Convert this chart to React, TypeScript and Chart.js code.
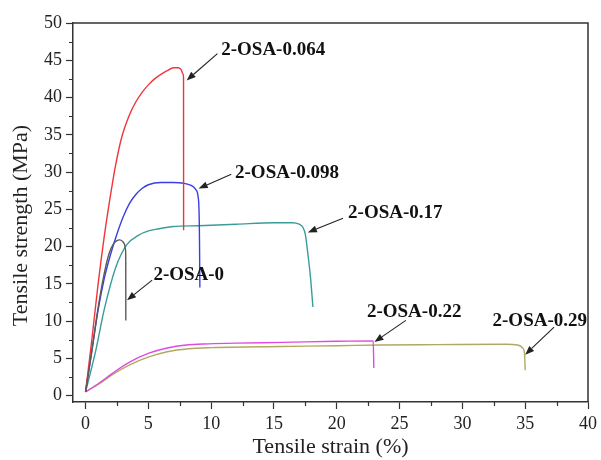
import { useEffect, useRef } from 'react';
import { Chart, registerables } from 'chart.js';

Chart.register(...registerables);

// ---- axis ticks ----
const xTickValues = [0, 5, 10, 15, 20, 25, 30, 35, 40];
const yTickValues = [0, 5, 10, 15, 20, 25, 30, 35, 40, 45, 50];
const xMinorTicks = [2.5, 7.5, 12.5, 17.5, 22.5, 27.5, 32.5, 37.5];
const yMinorTicks = [2.5, 7.5, 12.5, 17.5, 22.5, 27.5, 32.5, 37.5, 42.5, 47.5];

// ---- series (strain %, strength MPa) ----
const strain0 = [0, 0.5, 1.0, 1.5, 1.9, 2.2, 2.5, 2.7, 2.95, 3.1, 3.18, 3.2, 3.205];
const stress0 = [0.5, 6, 11.8, 16.5, 19.2, 20.3, 20.8, 20.9, 20.7, 20.3, 19.6, 18.5, 10.1];

const strain064 = [0, 0.5, 1.0, 1.5, 1.9, 2.4, 2.9, 3.5, 4.0, 4.5, 5.0, 5.5, 6.0, 6.5, 7.0, 7.4, 7.62, 7.75, 7.8, 7.805];
const stress064 = [0.5, 7.5, 15, 21.5, 26, 31, 34.8, 37.7, 39.4, 40.7, 41.7, 42.5, 43.1, 43.6, 44, 44, 43.7, 43.2, 42.6, 22.2];

const strain098 = [0, 0.5, 1.0, 1.5, 2.0, 2.5, 3.0, 3.5, 4.0, 4.5, 5.0, 6.0, 7.0, 7.8, 8.4, 8.75, 8.95, 9.03, 9.07, 9.1];
const stress098 = [0.5, 6, 11.5, 15.8, 19, 21.7, 24, 25.8, 27, 27.8, 28.3, 28.6, 28.6, 28.5, 28.2, 27.7, 26.8, 25, 21, 14.5];

const strain017 = [0, 0.82, 1.48, 2.4, 3.3, 4.2, 5.0, 5.84, 7.0, 9.0, 12.0, 15.0, 16.5, 17.0, 17.3, 17.5, 17.7, 17.9, 18.1];
const stress017 = [0.5, 6.1, 11.5, 17.2, 20.3, 21.5, 22.1, 22.4, 22.7, 22.8, 23.0, 23.2, 23.2, 23.0, 22.6, 21.6, 19.0, 16.0, 11.9];

const strain022 = [0, 1.08, 2.14, 3.5, 5.04, 6.5, 8.0, 9.8, 12.0, 15.6, 20.0, 22.9, 22.95];
const stress022 = [0.5, 1.7, 3.0, 4.5, 5.7, 6.4, 6.8, 6.95, 7.05, 7.15, 7.3, 7.35, 3.7];

const strain029 = [0, 1.1, 2.2, 3.6, 5.04, 6.5, 8.2, 10.0, 15.6, 20.0, 23.5, 28.0, 33.5, 34.4, 34.8, 34.95, 35.0];
const stress029 = [0.5, 1.6, 2.9, 4.2, 5.2, 5.9, 6.3, 6.45, 6.6, 6.7, 6.8, 6.85, 6.9, 6.8, 6.4, 5.6, 3.4];

const seriesNames = ['2-OSA-0', '2-OSA-0.064', '2-OSA-0.098', '2-OSA-0.17', '2-OSA-0.22', '2-OSA-0.29'];
const seriesStrain = [strain0, strain064, strain098, strain017, strain022, strain029];
const seriesStress = [stress0, stress064, stress098, stress017, stress022, stress029];
const seriesColors = ['#5a5a5a', '#f0353a', '#3b3fe0', '#3a9c9a', '#e04ae0', '#b0aa60'];

// ---- annotations (data coordinates) ----
const labelTexts = ['2-OSA-0.064', '2-OSA-0.098', '2-OSA-0.17', '2-OSA-0', '2-OSA-0.22', '2-OSA-0.29'];
const labelX = [10.8, 11.9, 20.9, 5.4, 22.4, 32.4];
const labelY = [46.3, 29.9, 24.5, 16.2, 11.2, 10.0];
const arrowFromX = [10.5, 11.6, 20.5, 5.3, 25.5, 37.3];
const arrowFromY = [45.9, 29.7, 23.8, 15.5, 10.1, 9.2];
const arrowToX = [8.05, 9.0, 17.7, 3.3, 23.0, 35.0];
const arrowToY = [42.3, 27.8, 21.9, 12.8, 7.2, 5.5];

const xTitle = 'Tensile strain (%)';
const yTitle = 'Tensile strength (MPa)';

const FONT = "'Liberation Serif', 'Times New Roman', serif";

const framePlugin = {
  id: 'frameAndNotes',
  afterDatasetsDraw(chart: any) {
    const { ctx, chartArea, scales } = chart;
    const xs = scales.x;
    const ys = scales.y;
    ctx.save();
    // frame top/right
    ctx.strokeStyle = '#333';
    ctx.lineWidth = 1.5;
    ctx.beginPath();
    ctx.moveTo(chartArea.left, chartArea.top);
    ctx.lineTo(chartArea.right, chartArea.top);
    ctx.lineTo(chartArea.right, chartArea.bottom);
    ctx.stroke();
    // minor ticks
    ctx.lineWidth = 1.2;
    ctx.beginPath();
    xMinorTicks.forEach((v) => {
      const px = Math.round(xs.getPixelForValue(v)) + 0.5;
      ctx.moveTo(px, chartArea.bottom);
      ctx.lineTo(px, chartArea.bottom + 4);
    });
    yMinorTicks.forEach((v) => {
      const py = Math.round(ys.getPixelForValue(v)) + 0.5;
      ctx.moveTo(chartArea.left, py);
      ctx.lineTo(chartArea.left - 4, py);
    });
    ctx.stroke();
    // y axis title
    ctx.save();
    ctx.translate(21, (chartArea.top + chartArea.bottom) / 2 + 13);
    ctx.rotate(-Math.PI / 2);
    ctx.font = `22px ${FONT}`;
    ctx.fillStyle = '#222';
    ctx.textAlign = 'center';
    ctx.textBaseline = 'middle';
    ctx.fillText(yTitle, 0, 0);
    ctx.restore();
    // annotations
    labelTexts.forEach((t, i) => {
      const fx = xs.getPixelForValue(arrowFromX[i]);
      const fy = ys.getPixelForValue(arrowFromY[i]);
      const tx = xs.getPixelForValue(arrowToX[i]);
      const ty = ys.getPixelForValue(arrowToY[i]);
      const ang = Math.atan2(ty - fy, tx - fx);
      const hl = 9;
      const hw = 3.5;
      const bx = tx - hl * Math.cos(ang);
      const by = ty - hl * Math.sin(ang);
      ctx.strokeStyle = '#222';
      ctx.fillStyle = '#222';
      ctx.lineWidth = 1.1;
      ctx.beginPath();
      ctx.moveTo(fx, fy);
      ctx.lineTo(bx, by);
      ctx.stroke();
      ctx.beginPath();
      ctx.moveTo(tx, ty);
      ctx.lineTo(bx + hw * Math.sin(ang), by - hw * Math.cos(ang));
      ctx.lineTo(bx - hw * Math.sin(ang), by + hw * Math.cos(ang));
      ctx.closePath();
      ctx.fill();
      ctx.font = `bold 19px ${FONT}`;
      ctx.textAlign = 'left';
      ctx.textBaseline = 'middle';
      ctx.fillStyle = '#111';
      ctx.fillText(t, xs.getPixelForValue(labelX[i]), ys.getPixelForValue(labelY[i]));
    });
    ctx.restore();
  },
};

export default function App() {
  const ref = useRef<HTMLCanvasElement | null>(null);
  useEffect(() => {
    document.body.style.margin = '0';
    const canvas = ref.current;
    if (!canvas) return;
    const datasets = seriesNames.map((name, i) => ({
      label: name,
      data: seriesStrain[i].map((x, j) => ({ x, y: seriesStress[i][j] })),
      borderColor: seriesColors[i],
      backgroundColor: seriesColors[i],
      borderWidth: 1.4,
      pointRadius: 0,
      cubicInterpolationMode: 'monotone' as const,
      fill: false,
      showLine: true,
    }));
    const chart = new Chart(canvas, {
      type: 'scatter',
      data: { datasets },
      options: {
        animation: false,
        responsive: false,
        layout: { padding: { top: 23, right: 12, left: 0, bottom: 0 } },
        plugins: { legend: { display: false }, tooltip: { enabled: false } },
        scales: {
          x: {
            type: 'linear',
            min: -1,
            max: 40,
            afterBuildTicks: (axis: any) => {
              axis.ticks = xTickValues.map((v) => ({ value: v }));
            },
            afterFit: (axis: any) => {
              axis.height = 58;
            },
            border: { display: true, color: '#333', width: 1.5 },
            grid: { display: true, drawOnChartArea: false, drawTicks: true, tickLength: 7, tickColor: '#333', tickWidth: 1.2 },
            ticks: { color: '#222', font: { family: FONT, size: 18 }, padding: 4, maxRotation: 0, autoSkip: false },
            title: { display: true, text: xTitle, color: '#222', font: { family: FONT, size: 22 }, padding: { top: 0, bottom: 0 } },
          },
          y: {
            type: 'linear',
            min: -0.85,
            max: 50,
            afterBuildTicks: (axis: any) => {
              axis.ticks = yTickValues.map((v) => ({ value: v }));
            },
            afterFit: (axis: any) => {
              axis.width = 73;
            },
            border: { display: true, color: '#333', width: 1.5 },
            grid: { display: true, drawOnChartArea: false, drawTicks: true, tickLength: 7, tickColor: '#333', tickWidth: 1.2 },
            ticks: { color: '#222', font: { family: FONT, size: 18 }, padding: 4, autoSkip: false },
            title: { display: false, text: yTitle },
          },
        },
      },
      plugins: [framePlugin],
    });
    return () => chart.destroy();
  }, []);
  return (
    <div style={{ position: 'absolute', left: 0, top: 0, width: 601, height: 460 }}>
      <canvas ref={ref} width={601} height={460} style={{ display: 'block' }} />
    </div>
  );
}
